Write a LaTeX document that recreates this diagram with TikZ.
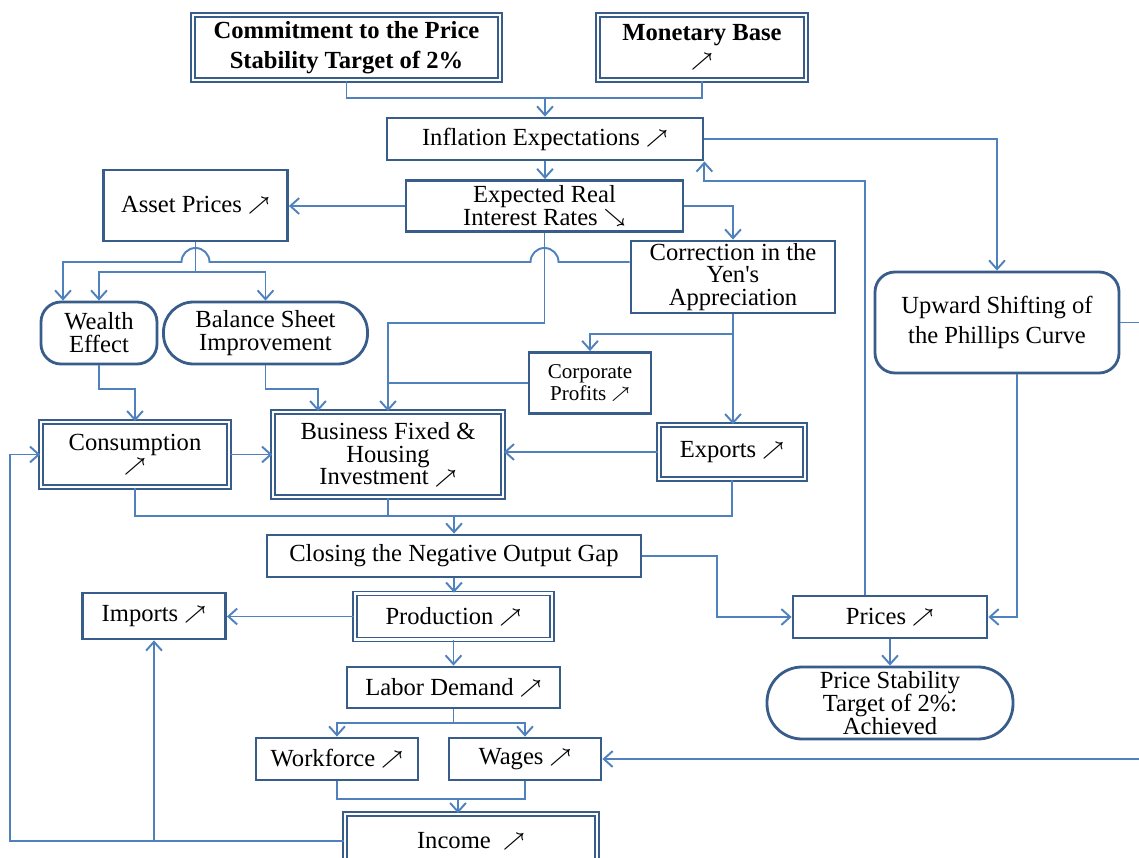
\documentclass[tikz,border=0pt]{standalone}
\usepackage{fontspec}
\setmainfont{Liberation Serif}
\usepackage{graphicx}
\usetikzlibrary{arrows.meta, positioning, calc}
\definecolor{frameblue}{RGB}{56, 93, 138}
\definecolor{linkblue}{RGB}{79, 129, 189}
\newcommand{\rising}{\raisebox{1pt}{\scalebox{0.75}{\boldmath$\nearrow$}}}
\newcommand{\falling}{\raisebox{1.5pt}{\scalebox{0.75}{\boldmath$\searrow$}}}

\begin{document}
\begin{tikzpicture}[
    block/.style={draw=frameblue, line width=1.6pt, fill=white, align=center, inner sep=1pt, font=\fontsize{14pt}{13pt}\selectfont},
    dblock/.style={block, line width=0.9pt, double=white, double distance=1.3pt},
    soft/.style={block, rounded corners=0.4cm},
    link/.style={linkblue, line width=1.1pt},
    arrow/.style={link, -{Straight Barb[length=5pt, width=9pt]}}
]
    \useasboundingbox (0,0) rectangle (22.78,17.14);
    \clip (0,0) rectangle (22.78,17.14);

    % --- Policy commitment ---
    \node[dblock, minimum width=6.14cm, minimum height=1.30cm, font=\fontsize{14pt}{17pt}\selectfont\bfseries] (commit) at (6.93,16.19) {Commitment to the Price\\Stability Target of 2\%};
    \node[dblock, minimum width=4.16cm, minimum height=1.30cm, font=\fontsize{14pt}{16pt}\selectfont] (monetary) at (14.04,16.19) {\textbf{Monetary Base}\\\rising};
    \node[block, minimum width=6.32cm, minimum height=0.84cm] (infl) at (10.90,14.36) {Inflation Expectations \rising};
    \node[block, minimum width=5.54cm, minimum height=1.02cm] (realrate) at (10.89,13.02) {Expected Real\\Interest Rates \falling};

    % --- Transmission channels ---
    \node[block, minimum width=3.68cm, minimum height=1.42cm] (asset) at (3.91,13.03) {Asset Prices \rising};
    \node[block, minimum width=4.08cm, minimum height=1.44cm] (yen) at (14.66,11.60) {Correction in the\\Yen\textquotesingle s\\Appreciation};
    \node[soft, minimum width=4.88cm, minimum height=2.02cm, font=\fontsize{14pt}{17pt}\selectfont] (phillips) at (19.94,10.69) {Upward Shifting of\\the Phillips Curve};
    \node[soft, minimum width=2.32cm, minimum height=1.24cm] (wealth) at (1.98,10.48) {Wealth\\Effect};
    \node[block, rounded corners=0.6cm, minimum width=4.08cm, minimum height=1.24cm] (balance) at (5.31,10.48) {Balance Sheet\\Improvement};
    \node[block, minimum width=2.44cm, minimum height=1.22cm, font=\fontsize{12pt}{12.5pt}\selectfont] (profits) at (11.80,9.48) {Corporate\\Profits \rising};

    % --- Demand ---
    \node[dblock, minimum width=3.76cm, minimum height=1.30cm] (consump) at (2.70,8.05) {Consumption\\\rising};
    \node[dblock, minimum width=4.60cm, minimum height=1.70cm] (invest) at (7.76,8.05) {Business Fixed \&\\Housing\\Investment \rising};
    \node[dblock, minimum width=2.92cm, minimum height=1.08cm] (exports) at (14.64,8.10) {Exports \rising};
    \node[block, minimum width=7.48cm, minimum height=0.84cm] (gap) at (9.08,6.02) {Closing the Negative Output Gap};

    % --- Output, prices and income ---
    \node[block, minimum width=2.86cm, minimum height=0.92cm] (imports) at (3.08,4.82) {Imports \rising};
    \node[dblock, minimum width=3.94cm, minimum height=0.92cm] (production) at (9.07,4.81) {Production \rising};
    \node[block, minimum width=3.88cm, minimum height=0.84cm] (prices) at (17.80,4.80) {Prices \rising};
    \node[block, minimum width=4.26cm, minimum height=0.82cm] (labor) at (9.07,3.39) {Labor Demand \rising};
    \node[block, rounded corners=0.7cm, minimum width=4.92cm, minimum height=1.44cm] (target) at (17.80,3.08) {Price Stability\\Target of 2\%:\\Achieved};
    \node[block, minimum width=3.24cm, minimum height=0.84cm] (workforce) at (6.74,1.96) {Workforce \rising};
    \node[block, minimum width=3.04cm, minimum height=0.84cm] (wages) at (10.50,1.96) {Wages \rising};
    \node[dblock, minimum width=5.04cm, minimum height=1.08cm] (income) at (9.42,0.32) {Income\enspace\rising};

    % --- Turning points ---
    \coordinate (topjoin) at (10.90,15.18);
    \coordinate (fbturn) at (17.30,13.52);
    \coordinate (rrturn) at (10.89,10.68);
    \coordinate (assetsplit) at (3.91,11.70);
    \coordinate (demand) at (9.08,6.82);
    \coordinate (gapturn) at (14.34,4.80);
    \coordinate (laborsplit) at (9.07,2.68);
    \coordinate (incomejoin) at (9.16,1.16);
    \coordinate (leftrail) at (0.20,0.32);
    \coordinate (rightrail) at (23.20,10.69);

    % --- Connectors ---
    \draw[link] (commit.south) |- (topjoin);
    \draw[link] (monetary.south) |- (topjoin);
    \draw[arrow] (topjoin) -- (infl.north);
    \draw[arrow] (infl.south) -- (infl.south |- realrate.north);
    \draw[arrow] (infl.east) -| (phillips.north);
    \draw[arrow] ([xshift=-0.5cm]prices.north) -- (fbturn) -| (infl.south east);

    \draw[arrow] (realrate.west) -- (realrate.west -| asset.east);
    \draw[arrow] (realrate.east) -| (yen.north);
    \draw[arrow] (realrate.south) -- (rrturn) -| (invest.north);
    \draw[link] (profits.west) -- (profits.west -| invest.north);
    \draw[arrow] ([yshift=0.3cm]yen.west) -- (11.17,11.90) arc[start angle=0, end angle=180, radius=0.28cm]
        -- (4.19,11.90) arc[start angle=0, end angle=180, radius=0.28cm] -- (1.26,11.90) -- ([xshift=-0.72cm]wealth.north); % hops over the two verticals
    \draw[arrow] ([yshift=-0.4cm]yen.south) -| (profits.north);
    \draw[arrow] (yen.south) -- (yen.south |- exports.north);

    \draw[link] (asset.south) -- (assetsplit);
    \draw[arrow] (assetsplit) -| (wealth.north);
    \draw[arrow] (assetsplit) -| (balance.north);
    \draw[arrow] (wealth.south) -- ++(0,-0.48) -| (consump.north);
    \draw[arrow] (balance.south) -- ++(0,-0.48) -| ([xshift=-1.4cm]invest.north);

    \draw[arrow] (consump.east) -- (consump.east -| invest.west);
    \draw[arrow] (exports.west) -- (exports.west -| invest.east);
    \draw[link] (consump.south) |- (demand);
    \draw[link] (exports.south) |- (demand);
    \draw[link] (invest.south) -- (invest.south |- demand);
    \draw[arrow] (demand) -- (gap.north);

    \draw[arrow] (gap.east) -| (gapturn) -- (prices.west);
    \draw[arrow] ([xshift=0.4cm]phillips.south) |- (prices.east);
    \draw[arrow] (prices.south) -- (target.north);
    \draw[arrow] (gap.south) -- (gap.south |- production.north);
    \draw[arrow] (production.west) -- (production.west -| imports.east);
    \draw[arrow] (production.south) -- (production.south |- labor.north);

    \draw[link] (labor.south) -- (laborsplit);
    \draw[arrow] (laborsplit) -| (workforce.north);
    \draw[arrow] (laborsplit) -| (wages.north);
    \draw[link] (workforce.south) |- (incomejoin);
    \draw[link] (wages.south) |- (incomejoin);
    \draw[arrow] (incomejoin) -- (incomejoin |- income.north);

    \draw[arrow] (income.west) -- (leftrail) |- (consump.west);
    \draw[arrow] (income.west -| imports.south) -- (imports.south);
    \draw[arrow] (phillips.east) -- (rightrail) |- (wages.east); % runs off the right edge

\end{tikzpicture}
\end{document}
